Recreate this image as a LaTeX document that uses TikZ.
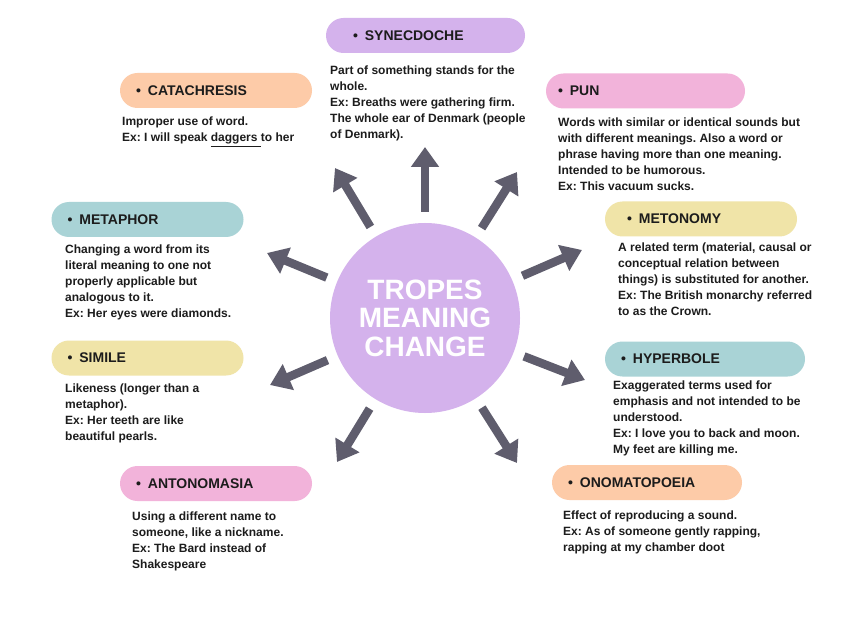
\documentclass[tikz,border=0pt]{standalone}
\usepackage{fontspec}
\setmainfont{Liberation Sans}
\frenchspacing
\usetikzlibrary{arrows.meta,positioning}
\definecolor{lavender}{HTML}{D4B2EC}
\definecolor{peach}{HTML}{FDCBA8}
\definecolor{pinkbox}{HTML}{F2B3DA}
\definecolor{tealbox}{HTML}{A9D3D6}
\definecolor{yellowbox}{HTML}{F0E4A8}
\definecolor{arrowgrey}{HTML}{5F5D6D}
\definecolor{ink}{HTML}{1C1C1C}

\begin{document}
\begin{tikzpicture}[
  x=1pt, y=-1pt,
  pill/.style={rounded corners=17.5pt, minimum height=35pt, inner xsep=16pt, text width=160pt, align=left, text=ink, font=\fontsize{14}{16}\selectfont\bfseries},
  body/.style={anchor=north west, inner sep=0pt, align=left, text=ink, font=\fontsize{12}{16}\selectfont\bfseries},
  hub/.style={circle, fill=lavender, minimum size=190pt, text=white, align=center, font=\fontsize{28}{28.5}\selectfont\bfseries},
  arr/.style={-{Triangle[length=20pt,width=27pt]}, line width=8.5pt, draw=arrowgrey, shorten <=11pt}
]
\path[fill=white] (0,0) rectangle (848,636);

\node[hub] (tropes) at (425,318) {TROPES\\MEANING\\CHANGE};

% headings
\node[pill, fill=lavender, inner xsep=27pt, text width=145pt] (synecdoche) at (425.5,35.5) {\textbullet\hspace{7pt}SYNECDOCHE};
\node[pill, fill=peach] (catachresis) at (216,90.5) {\textbullet\hspace{7pt}CATACHRESIS};
\node[pill, fill=pinkbox, inner xsep=12pt, text width=175pt] (pun) at (645.5,91) {\textbullet\hspace{7pt}PUN};
\node[pill, fill=tealbox] (metaphor) at (147.5,219.5) {\textbullet\hspace{7pt}METAPHOR};
\node[pill, fill=yellowbox, inner xsep=22pt, text width=148pt] (metonomy) at (701,219) {\textbullet\hspace{7pt}METONOMY};
\node[pill, fill=yellowbox] (simile) at (147.5,358) {\textbullet\hspace{7pt}SIMILE};
\node[pill, fill=tealbox, text width=168pt] (hyperbole) at (705,359) {\textbullet\hspace{7pt}HYPERBOLE};
\node[pill, fill=pinkbox] (antonomasia) at (216,483.5) {\textbullet\hspace{7pt}ANTONOMASIA};
\node[pill, fill=peach, text width=158pt] (onomatopoeia) at (647,482.5) {\textbullet\hspace{7pt}ONOMATOPOEIA};

% descriptions
\node[body] (synecdochetxt) at (330,66) {Part of something stands for the\\whole.\\Ex: Breaths were gathering firm.\\The whole ear of Denmark (people\\of Denmark).};
\node[body] (catachresistxt) at (122,117) {Improper use of word.\\Ex: I will speak \underline{daggers }to her};
\node[body] (puntxt) at (558,118) {Words with similar or identical sounds but\\with different meanings. Also a word or\\phrase having more than one meaning.\\Intended to be humorous.\\Ex: This vacuum sucks.};
\node[body] (metaphortxt) at (65,245) {Changing a word from its\\literal meaning to one not\\properly applicable but\\analogous to it.\\Ex: Her eyes were diamonds.};
\node[body] (metonomytxt) at (618,243) {A related term (material, causal or\\conceptual relation between\\things) is substituted for another.\\Ex: The British monarchy referred\\to as the Crown.};
\node[body] (similetxt) at (65,384) {Likeness (longer than a\\metaphor).\\Ex: Her teeth are like\\beautiful pearls.};
\node[body] (hyperboletxt) at (613,381) {Exaggerated terms used for\\emphasis and not intended to be\\understood.\\Ex: I love you to back and moon.\\My feet are killing me.};
\node[body] (antonomasiatxt) at (132,512) {Using a different name to\\someone, like a nickname.\\Ex: The Bard instead of\\Shakespeare};
\node[body] (onomatopoeiatxt) at (563,511) {Effect of reproducing a sound.\\Ex: As of someone gently rapping,\\rapping at my chamber doot};

% arrow tips
\coordinate (tipsyn) at (425,147);
\coordinate (tipcat) at (335,168);
\coordinate (tippun) at (517,172);
\coordinate (tipmeta) at (267,253);
\coordinate (tipmeto) at (582,250);
\coordinate (tipsim) at (270,385);
\coordinate (tiphyp) at (585,380);
\coordinate (tipant) at (337,462);
\coordinate (tipono) at (517,463);

\draw[arr] (tropes) -- (tipsyn);
\draw[arr] (tropes) -- (tipcat);
\draw[arr] (tropes) -- (tippun);
\draw[arr] (tropes) -- (tipmeta);
\draw[arr] (tropes) -- (tipmeto);
\draw[arr] (tropes) -- (tipsim);
\draw[arr] (tropes) -- (tiphyp);
\draw[arr] (tropes) -- (tipant);
\draw[arr] (tropes) -- (tipono);
\end{tikzpicture}
\end{document}
